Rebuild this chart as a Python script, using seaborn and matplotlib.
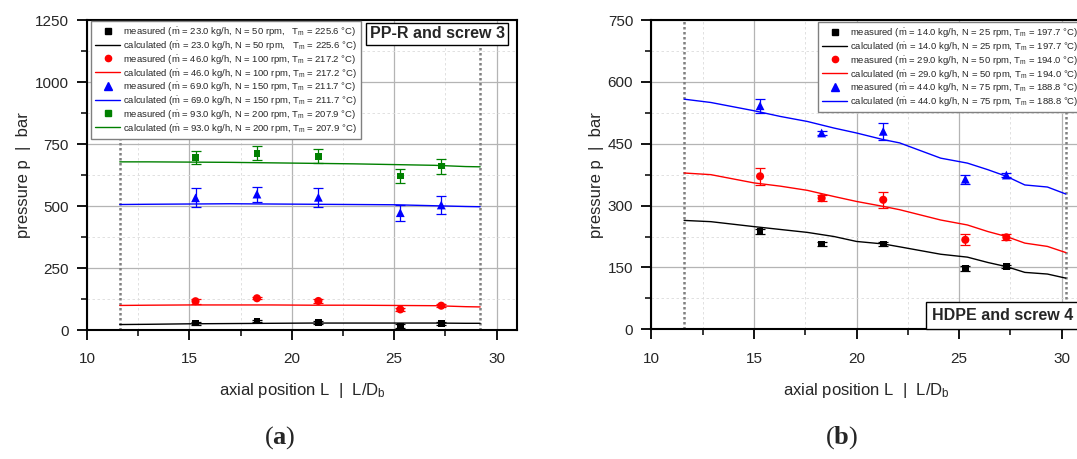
import matplotlib
matplotlib.use("Agg")
import matplotlib.pyplot as plt
from matplotlib.lines import Line2D
from matplotlib.ticker import MultipleLocator
import seaborn as sns

sns.set_theme(style="white")
plt.rcParams["font.family"] = ["Liberation Sans", "DejaVu Sans"]
plt.rcParams["mathtext.fontset"] = "custom"
plt.rcParams["mathtext.rm"] = "Liberation Sans"
plt.rcParams["mathtext.it"] = "Liberation Sans:italic"
plt.rcParams["mathtext.bf"] = "Liberation Serif:bold"
plt.rcParams["mathtext.default"] = "regular"

# measured positions (same for both screws)
pos_meas = [15.3, 18.3, 21.3, 25.3, 27.3]

# (a) PP-R and screw 3
a_x_calc = [11.6, 13, 15, 17, 19, 21, 23, 25, 27, 28.5, 29.2]
a_calc_k = [22, 23, 25, 26, 27, 28, 28, 28, 28, 27, 27]
a_calc_r = [99, 100, 101, 101, 101, 100, 100, 99, 98, 94, 93]
a_calc_b = [506, 507, 508, 509, 508, 507, 506, 505, 501, 498, 497]
a_calc_g = [678, 678, 677, 676, 674, 672, 670, 667, 664, 659, 658]
a_meas_k = [28, 36, 30, 16, 27]
a_err_k = [6, 5, 6, 8, 5]
a_meas_r = [116, 128, 117, 83, 98]
a_err_r = [10, 5, 10, 6, 6]
a_meas_b = [533, 548, 535, 473, 504]
a_err_b = [38, 30, 38, 33, 36]
a_meas_g = [696, 713, 701, 621, 661]
a_err_g = [27, 29, 27, 30, 30]
a_cond = [("23.0", "50", "225.6", "   "), ("46.0", "100", "217.2", " "),
          ("69.0", "150", "211.7", " "), ("93.0", "200", "207.9", " ")]

# (b) HDPE and screw 4
b_x_calc = [11.6, 12.9, 15, 16.3, 17.6, 18.9, 20, 21.3, 22.1, 24.1, 25.4, 26.4, 27.3, 28.2, 29.3, 30.2]
b_calc_k = [264, 261, 249, 242, 235, 225, 213, 207, 200, 182, 175, 162, 152, 138, 134, 124]
b_calc_r = [379, 375, 355, 347, 337, 322, 310, 298, 290, 265, 253, 237, 225, 209, 201, 186]
b_calc_b = [558, 550, 530, 516, 504, 488, 476, 460, 452, 415, 403, 387, 371, 350, 345, 328]
b_meas_k = [237, 207, 207, 148, 152]
b_err_k = [7, 5, 5, 6, 4]
b_meas_r = [371, 318, 314, 217, 223]
b_err_r = [20, 8, 20, 13, 7]
b_meas_b = [542, 476, 480, 364, 374]
b_err_b = [17, 5, 20, 11, 5]
b_cond = [("14.0", "25", "197.7"), ("29.0", "50", "194.0"), ("44.0", "75", "188.8")]

colors = ["black", "red", "blue", "green"]
markers = ["s", "o", "^", "s"]
msizes = [24, 34, 40, 24]

W, H = 1077, 459
fig = plt.figure(figsize=(W / 100, H / 100), dpi=100)
ax_a = fig.add_axes([87 / W, 1 - 330 / H, 430 / W, 310 / H])
ax_b = fig.add_axes([651.3 / W, 1 - 329.3 / H, 431 / W, 309.3 / H])


def draw(ax, xc, calcs, meas, errs, nser):
    for i in range(nser):
        c = colors[i]
        sns.lineplot(x=xc, y=calcs[i], color=c, lw=1.0, ax=ax, zorder=3)
        ax.errorbar(pos_meas, meas[i], yerr=errs[i], fmt="none", ecolor=c,
                    elinewidth=0.9, capsize=3.5, capthick=0.9, zorder=4)
        sns.scatterplot(x=pos_meas, y=meas[i], marker=markers[i], s=msizes[i],
                        color=c, edgecolor="none", ax=ax, zorder=5)


def style(ax, ymax, ystep, vlines):
    ax.set_xlim(10, 31)
    ax.set_ylim(0, ymax)
    ax.xaxis.set_major_locator(MultipleLocator(5))
    ax.xaxis.set_minor_locator(MultipleLocator(2.5))
    ax.yaxis.set_major_locator(MultipleLocator(ystep))
    ax.yaxis.set_minor_locator(MultipleLocator(ystep / 2))
    ax.grid(True, which="major", color="#b4b4b4", lw=0.9)
    ax.grid(True, which="minor", color="#dcdcdc", lw=0.6, ls=(0, (3, 3)))
    ax.set_axisbelow(True)
    for sp in ax.spines.values():
        sp.set_color("black")
        sp.set_linewidth(1.5)
    ax.tick_params(which="major", direction="out", length=7, width=1.3,
                   labelsize=11, color="black", bottom=True, left=True, pad=6)
    ax.tick_params(axis="x", which="major", pad=9)
    ax.tick_params(which="minor", direction="out", length=4, width=1.1,
                   color="black", bottom=True, left=True)
    for v in vlines:
        ax.axvline(v, color="#808080", lw=1.8, ls=(0, (1, 1)), zorder=2)
    ax.set_xlabel(r"axial position L  |  L/D$_b$", fontsize=12, labelpad=11)
    ax.set_ylabel("pressure p  |  bar", fontsize=12, labelpad=3)


draw(ax_a, a_x_calc, [a_calc_k, a_calc_r, a_calc_b, a_calc_g],
     [a_meas_k, a_meas_r, a_meas_b, a_meas_g],
     [a_err_k, a_err_r, a_err_b, a_err_g], 4)
style(ax_a, 1250, 250, [11.6, 29.2])

draw(ax_b, b_x_calc, [b_calc_k, b_calc_r, b_calc_b],
     [b_meas_k, b_meas_r, b_meas_b],
     [b_err_k, b_err_r, b_err_b], 3)
style(ax_b, 750, 150, [11.6, 30.2])


def legend(ax, conds, anchor):
    handles, labels = [], []
    for i, cd in enumerate(conds):
        mdot, n, tm = cd[0], cd[1], cd[2]
        gap = cd[3] if len(cd) > 3 else " "
        tail = r"($\dot{m}$ = %s kg/h, N = %s rpm,%sT$_m$ = %s °C)" % (mdot, n, gap, tm)
        handles.append(Line2D([], [], ls="none", marker=markers[i], color=colors[i],
                              markersize=4.5 if markers[i] != "^" else 5.5))
        labels.append("measured " + tail)
        handles.append(Line2D([], [], color=colors[i], lw=1.0))
        labels.append("calculated " + tail)
    lg = ax.legend(handles, labels, loc="upper left", bbox_to_anchor=anchor,
                   bbox_transform=fig.transFigure, fontsize=6.8, frameon=True,
                   fancybox=False, edgecolor="#808080", framealpha=1,
                   labelspacing=0.08, handlelength=2.6, handletextpad=0.3,
                   borderpad=0.45, borderaxespad=0)
    lg.get_frame().set_linewidth(1.0)
    lg.set_zorder(10)


legend(ax_a, a_cond, (91 / W, 1 - 21 / H))
legend(ax_b, b_cond, (818 / W, 1 - 22 / H))

fig.text(437 / W, 1 - 34 / H, "PP-R and screw 3", ha="center", va="center",
         fontsize=11.5, fontweight="bold",
         bbox=dict(boxstyle="square,pad=0.25", fc="white", ec="black", lw=1.0),
         zorder=11)
fig.text(932 / W, 1 - 315.5 / H, "HDPE and screw 4", ha="left", va="center",
         fontsize=11.5, fontweight="bold",
         bbox=dict(boxstyle="square,pad=0.4", fc="white", ec="black", lw=1.0),
         zorder=11)

fig.text(280 / W, 1 - 438 / H, r"($\mathbf{a}$)", ha="center", va="center",
         fontsize=19, family="Liberation Serif")
fig.text(842 / W, 1 - 438 / H, r"($\mathbf{b}$)", ha="center", va="center",
         fontsize=19, family="Liberation Serif")

fig.savefig("out.png", dpi=100)
